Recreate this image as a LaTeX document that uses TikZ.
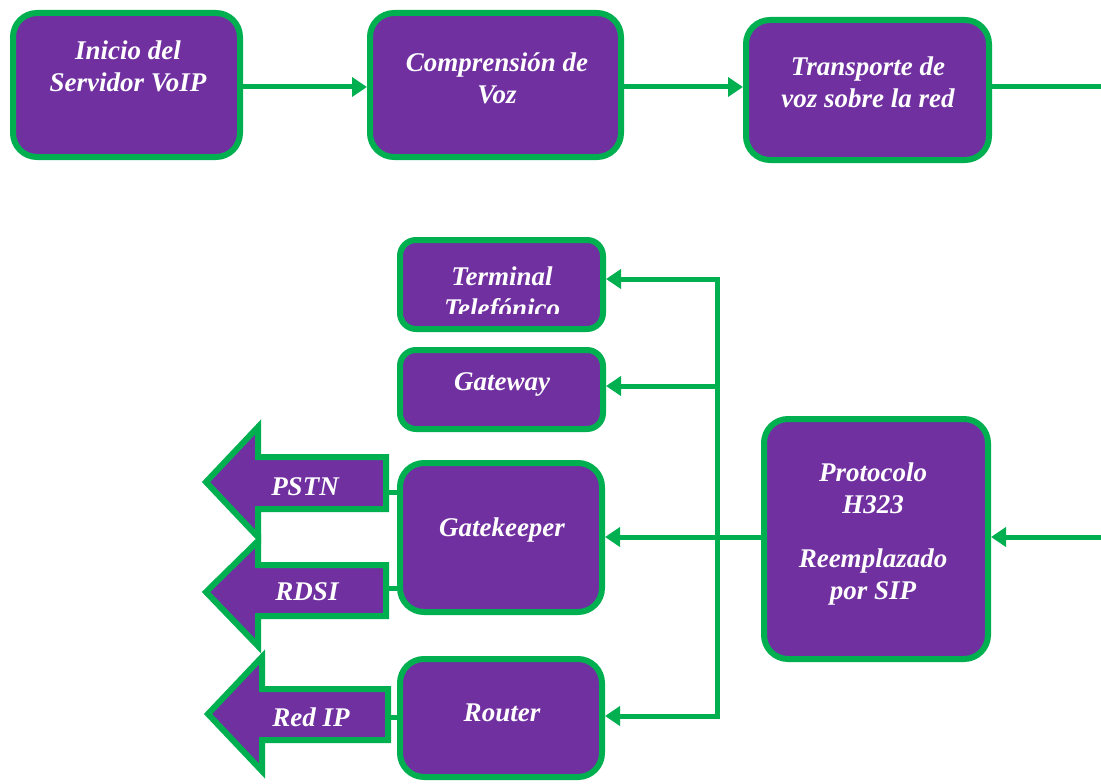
\documentclass[tikz,border=0pt]{standalone}
\usepackage{fontspec}
\setmainfont{Liberation Serif}
\usetikzlibrary{arrows.meta}
\definecolor{vpurple}{HTML}{7030A0}
\definecolor{vgreen}{HTML}{00B050}
\begin{document}
\begin{tikzpicture}[x=1pt,y=-1pt,
  box/.style={draw=vgreen,fill=vpurple,line width=6pt,rounded corners=24pt,inner sep=0pt},
  smallbox/.style={box,rounded corners=16pt},
  lbl/.style={text=white,align=center,inner sep=0pt,
    font=\fontsize{27}{32}\selectfont\bfseries\itshape},
  link/.style={draw=vgreen,line width=5pt},
  flow/.style={link,-{Triangle[length=15pt,width=19pt]}},
  bigarrow/.style={draw=vgreen,fill=vpurple,line width=6pt,line join=miter}]
\useasboundingbox (0,0) rectangle (1101,784);

% top row: VoIP flow
\node[box,minimum width=227pt,minimum height=144pt] (inicio) at (126.5,85) {};
\node[box,minimum width=251pt,minimum height=144pt] (compr) at (495.5,85) {};
\node[box,minimum width=243pt,minimum height=140pt] (transp) at (867.5,90) {};
\node[lbl] (tinicio) at (128,66) {Inicio del\\Servidor VoIP};
\node[lbl] (tcompr) at (497,78) {Comprensión de\\Voz};
\node[lbl] (ttransp) at (868,82) {Transporte de\\voz sobre la red};
\coordinate (outR) at (1101,87);
\draw[flow] (inicio.east |- 0,87) -- (compr.west |- 0,87);
\draw[flow] (compr.east |- 0,87) -- (transp.west |- 0,87);
\draw[link] (transp.east |- 0,87) -- (outR);

% H323 components
\node[smallbox,minimum width=203pt,minimum height=89pt] (term) at (501.5,284.5) {};
\node[smallbox,minimum width=203pt,minimum height=79pt] (gw) at (501.5,389.5) {};
\node[box,minimum width=202pt,minimum height=149pt] (gk) at (501,537.5) {};
\node[box,minimum width=202pt,minimum height=118pt] (router) at (501,718) {};
\node[box,minimum width=224pt,minimum height=240pt] (h323) at (876,539) {};

\begin{scope}
  \clip (397,237) rectangle (606,313);
  \node[lbl] (tterm) at (502,295) {Terminal\\Telefónico};
\end{scope}
\node[lbl] (tgw) at (502,384) {Gateway};
\node[lbl] (tgk) at (502,530) {Gatekeeper};
\node[lbl] (trouter) at (502,713) {Router};
\node[lbl] (th323a) at (873,488) {Protocolo\\H323};
\node[lbl] (th323b) at (873,577) {Reemplazado\\por SIP};

% distribution bus
\coordinate (busT) at (717,279);
\coordinate (busG) at (717,386);
\coordinate (busK) at (717,537);
\coordinate (busR) at (717,716);
\coordinate (inR) at (1101,537);
\draw[link,line cap=rect] (busT) -- (busR);
\draw[flow] (busT) -- (term.east |- busT);
\draw[flow] (busG) -- (gw.east |- busG);
\draw[flow] (busK) -- (gk.east |- busK);
\draw[flow] (busR) -- (router.east |- busR);
\draw[link] (h323.west |- busK) -- (busK);
\draw[flow] (inR) -- (h323.east |- inR);

% outgoing networks (block arrows)
\draw[bigarrow] (386,457) -- (258,457) -- (258,427) -- (206,482) -- (258,537) -- (258,509) -- (386,509) -- cycle;
\draw[bigarrow] (386,565) -- (258,565) -- (258,541) -- (206,592) -- (258,646) -- (258,616) -- (386,616) -- cycle;
\draw[bigarrow] (388,689) -- (262,689) -- (262,657) -- (208,714) -- (262,771) -- (262,740) -- (388,740) -- cycle;
\coordinate (pstnR) at (386,492);
\coordinate (rdsiR) at (386,588);
\coordinate (redR) at (388,717);
\node[lbl] (tpstn) at (305,487) {PSTN};
\node[lbl] (trdsi) at (307,592) {RDSI};
\node[lbl] (tred) at (311,717) {Red IP};
\draw[link] (pstnR) -- (gk.west |- pstnR);
\draw[link] (rdsiR) -- (gk.west |- rdsiR);
\draw[link] (redR) -- (router.west |- redR);
\end{tikzpicture}
\end{document}
